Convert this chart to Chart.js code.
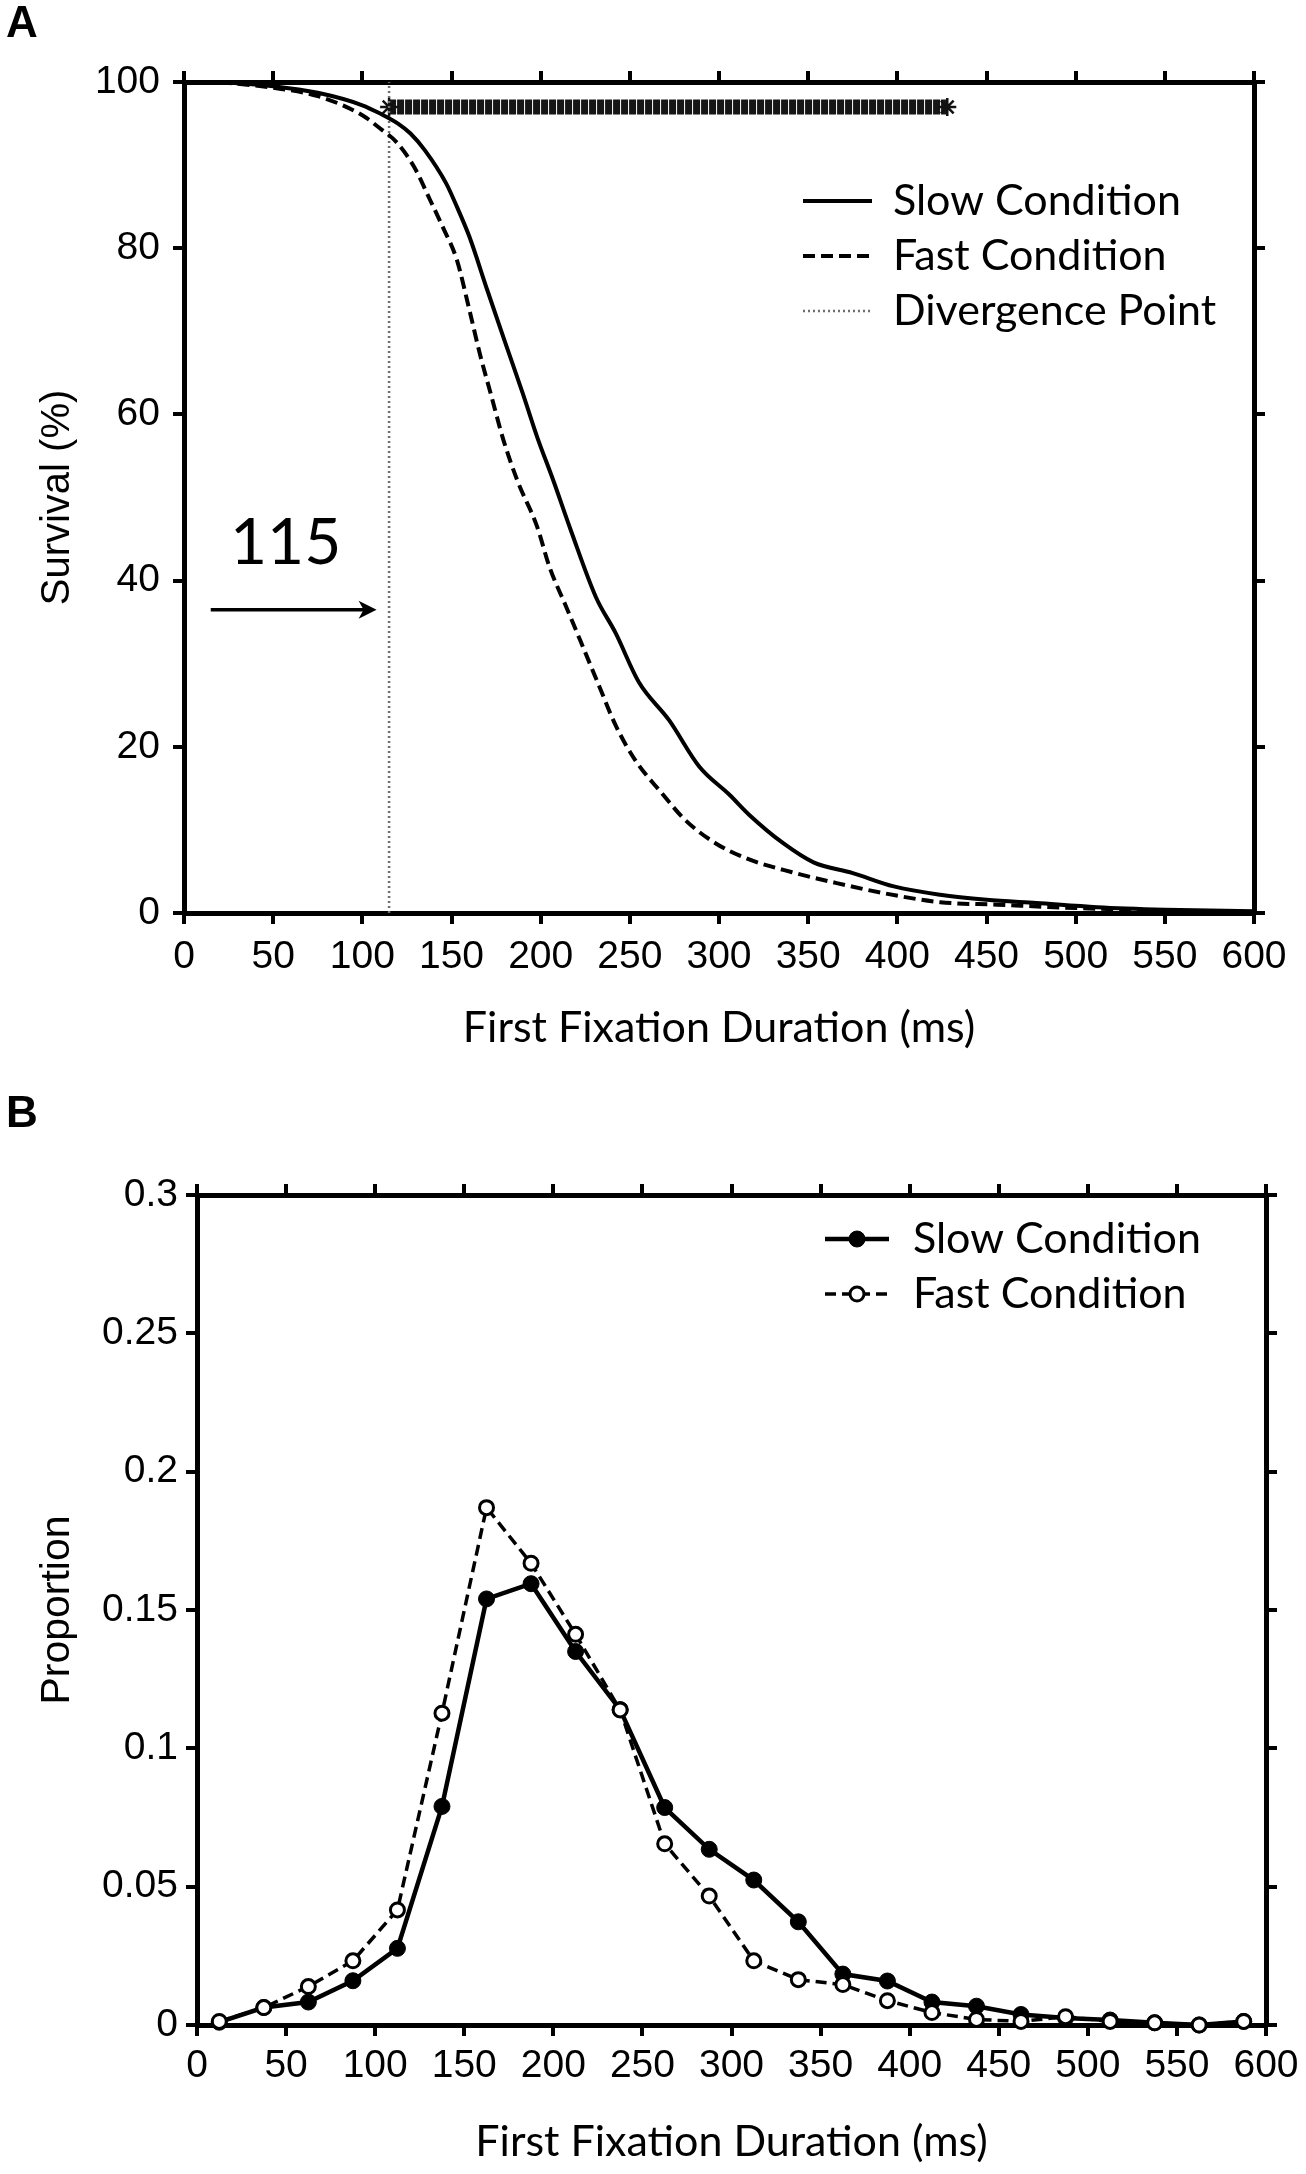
<!DOCTYPE html>
<html>
<head>
<meta charset="utf-8">
<script src="https://cdn.jsdelivr.net/npm/chart.js@4.4.1/dist/chart.umd.min.js"></script>
<style>
html,body{margin:0;padding:0;background:#fff;}
#wrap{position:relative;width:1306px;height:2174px;background:#fff;}
.box{position:absolute;left:0;width:1306px;height:1087px;}
</style>
</head>
<body>
<div id="wrap">
  <div class="box" style="top:0px"><canvas id="c1"></canvas></div>
  <div class="box" style="top:1087px"><canvas id="c2"></canvas></div>
</div>
<script>
// ---------------- DATA: panel A (survival curves) ----------------
const slowX = [20, 50, 75, 100, 110, 120, 127, 135, 147, 153, 160, 170, 181, 190, 198, 207, 217, 231, 242, 255, 272, 289, 306, 317, 336, 353, 375, 398, 424, 450, 478, 512, 550, 600];
const slowY = [100, 99.5, 98.7, 97.2, 96.2, 95.0, 93.8, 91.8, 87.8, 85.0, 81.4, 75.0, 68.1, 62.5, 57.3, 52.1, 46.0, 38.0, 33.7, 27.8, 23.2, 17.6, 14.2, 11.8, 8.4, 6.1, 4.8, 3.2, 2.2, 1.6, 1.2, 0.7, 0.4, 0.2];
const fastX = [20, 50, 75, 100, 110, 119, 129, 138, 145, 153, 160, 166, 172, 179, 187, 198, 205, 214, 222, 233, 242, 253, 268, 281, 298, 315, 341, 366, 392, 424, 456, 500, 550, 600];
const fastY = [100, 99.3, 98.3, 96.0, 94.4, 92.8, 89.8, 85.8, 82.6, 78.6, 72.6, 67.2, 62.5, 57.0, 52.0, 46.5, 41.6, 37.0, 32.9, 27.2, 22.6, 18.4, 14.4, 11.2, 8.4, 6.6, 4.9, 3.6, 2.4, 1.3, 1.0, 0.6, 0.3, 0.1];
const divergencePoint = 115;          // ms
const significantRange = [115, 428];  // ms, run of significant differences (stars)
const significantLevel = 97;          // % (height of the star row)
const survivalTicks = ['0', '20', '40', '60', '80', '100'];
const durationTicks = ['0', '50', '100', '150', '200', '250', '300', '350', '400', '450', '500', '550', '600'];

// ---------------- DATA: panel B (distributions) ----------------
const binCenters = [12.5, 37.5, 62.5, 87.5, 112.5, 137.5, 162.5, 187.5, 212.5, 237.5, 262.5, 287.5, 312.5, 337.5, 362.5, 387.5, 412.5, 437.5, 462.5, 487.5, 512.5, 537.5, 562.5, 587.5];
const slowProp = [0.001, 0.0063, 0.0083, 0.016, 0.0277, 0.079, 0.154, 0.1595, 0.135, 0.114, 0.0786, 0.0635, 0.0524, 0.0373, 0.0184, 0.0159, 0.0083, 0.0068, 0.0038, 0.0025, 0.0018, 0.0008, 0.0, 0.0013];
const fastProp = [0.0013, 0.0063, 0.0139, 0.0232, 0.0416, 0.1127, 0.187, 0.1669, 0.1412, 0.1139, 0.0655, 0.0466, 0.0232, 0.0164, 0.0146, 0.0088, 0.0045, 0.002, 0.0013, 0.003, 0.0013, 0.0008, 0.0, 0.0013];
const proportionTicks = ['0', '0.05', '0.1', '0.15', '0.2', '0.25', '0.3'];

const seriesNames = ['Slow Condition', 'Fast Condition', 'Divergence Point'];
const xTitle = 'First Fixation Duration (ms)';

// ---------------- helpers ----------------
const AX = '"Liberation Sans", Arial, sans-serif';
const CAL = 'Lato, "Open Sans", sans-serif';
const pairs = (xs, ys) => xs.map((x, i) => ({x: x, y: ys[i]}));

function frameScale(pos, min, max, step, labels, size) {
  return {
    type: 'linear', position: pos, min: min, max: max,
    ticks: {
      stepSize: step, autoSkip: false, maxRotation: 0, color: '#000',
      font: {family: AX, size: 39},
      display: !!labels,
      callback: labels ? (v, i) => labels[i] : () => ''
    },
    grid: {drawOnChartArea: false, drawTicks: true, tickLength: 11, lineWidth: 4, color: '#000'},
    border: {display: true, width: 5, color: '#000'},
    afterFit: (sc) => {
      if (pos === 'top' || pos === 'bottom') sc.height = size; else sc.width = size;
    }
  };
}

function arrow(ctx, x0, x1, y) {
  ctx.beginPath();
  ctx.strokeStyle = '#000'; ctx.lineWidth = 3.5;
  ctx.moveTo(x0, y); ctx.lineTo(x1 - 6, y);
  ctx.stroke();
  ctx.beginPath();
  ctx.fillStyle = '#000';
  ctx.moveTo(x1, y); ctx.lineTo(x1 - 18, y - 9); ctx.lineTo(x1 - 13, y); ctx.lineTo(x1 - 18, y + 9);
  ctx.closePath(); ctx.fill();
}

Chart.defaults.animation = false;

// ---------------- Panel A ----------------
const plugA = {
  id: 'plugA',
  afterDraw(chart) {
    const ctx = chart.ctx, xs = chart.scales.x, ys = chart.scales.y;
    ctx.save();
    ctx.fillStyle = '#000';
    ctx.font = 'bold 44px ' + AX;
    ctx.textAlign = 'left'; ctx.textBaseline = 'alphabetic';
    ctx.fillText('A', 6, 37);

    const rows = [201, 256, 311];
    for (let k = 0; k < 3; k++) {
      const ds = chart.data.datasets[k];
      ctx.beginPath();
      ctx.strokeStyle = ds.borderColor;
      ctx.lineWidth = k === 2 ? 2.5 : 4;
      ctx.setLineDash(ds.borderDash || []);
      ctx.moveTo(803, rows[k]); ctx.lineTo(872, rows[k]);
      ctx.stroke();
      ctx.setLineDash([]);
      ctx.fillStyle = '#000';
      ctx.font = '43px ' + CAL;
      ctx.textAlign = 'left'; ctx.textBaseline = 'middle';
      ctx.fillText(ds.label, 893, rows[k]);
    }

    ctx.font = '64px ' + CAL;
    ctx.textAlign = 'center'; ctx.textBaseline = 'alphabetic';
    ctx.fillStyle = '#000';
    ctx.fillText(String(divergencePoint), xs.getPixelForValue(57), ys.getPixelForValue(42));
    arrow(ctx, xs.getPixelForValue(15), xs.getPixelForValue(divergencePoint - 7), ys.getPixelForValue(36.5));
    ctx.restore();
  }
};

new Chart(document.getElementById('c1'), {
  type: 'line',
  data: {
    datasets: [
      {label: seriesNames[0], data: pairs(slowX, slowY), borderColor: '#000', borderWidth: 4,
       pointRadius: 0, cubicInterpolationMode: 'monotone', fill: false, clip: 6},
      {label: seriesNames[1], data: pairs(fastX, fastY), borderColor: '#000', borderWidth: 4,
       borderDash: [12, 6], pointRadius: 0, cubicInterpolationMode: 'monotone', fill: false, clip: 6},
      {label: seriesNames[2], data: [{x: divergencePoint, y: 0}, {x: divergencePoint, y: 100}],
       borderColor: '#6e6e6e', borderWidth: 2.5, borderDash: [2, 3], pointRadius: 0, fill: false},
      {label: 'significant', data: [{x: significantRange[0], y: significantLevel}, {x: significantRange[1], y: significantLevel}],
       borderColor: '#161616', borderWidth: 15, borderDash: [7, 1], pointStyle: 'star', pointRadius: 9,
       pointBorderColor: '#111', pointBorderWidth: 2.5, fill: false}
    ]
  },
  options: {
    responsive: true, maintainAspectRatio: false, animation: false,
    layout: {padding: 0},
    plugins: {legend: {display: false}, tooltip: {enabled: false}},
    scales: {
      x: frameScale('bottom', 0, 600, 50, durationTicks, 174),
      x2: frameScale('top', 0, 600, 50, null, 82),
      y: frameScale('left', 0, 100, 20, survivalTicks, 184),
      y2: frameScale('right', 0, 100, 20, null, 52)
    }
  },
  plugins: [plugA]
});
const cA = Chart.getChart('c1');
cA.options.scales.x.ticks.padding = 10;
cA.options.scales.x.title = {display: true, text: xTitle, color: '#000', font: {family: CAL, size: 43}, padding: {top: 0, bottom: 33}};
cA.options.scales.y.ticks.padding = 13;
cA.options.scales.y.title = {display: true, text: 'Survival (%)', color: '#000', font: {family: AX, size: 40}, padding: {top: 34, bottom: 0}};
cA.update();

// ---------------- Panel B ----------------
const plugB = {
  id: 'plugB',
  afterDraw(chart) {
    const ctx = chart.ctx;
    ctx.save();
    ctx.fillStyle = '#000';
    ctx.font = 'bold 44px ' + AX;
    ctx.textAlign = 'left'; ctx.textBaseline = 'alphabetic';
    ctx.fillText('B', 6, 40);
    const rows = [152, 207];
    const order = [1, 0];
    for (let k = 0; k < 2; k++) {
      const ds = chart.data.datasets[order[k]];
      ctx.beginPath();
      ctx.strokeStyle = '#000';
      ctx.lineWidth = ds.borderWidth;
      ctx.setLineDash(ds.borderDash || []);
      ctx.moveTo(825, rows[k]); ctx.lineTo(889, rows[k]);
      ctx.stroke();
      ctx.setLineDash([]);
      ctx.beginPath();
      ctx.arc(857, rows[k], ds.pointRadius, 0, Math.PI * 2);
      ctx.fillStyle = ds.pointBackgroundColor; ctx.fill();
      ctx.lineWidth = ds.pointBorderWidth; ctx.strokeStyle = '#000'; ctx.stroke();
      ctx.fillStyle = '#000';
      ctx.font = '43px ' + CAL;
      ctx.textAlign = 'left'; ctx.textBaseline = 'middle';
      ctx.fillText(ds.label, 913, rows[k]);
    }
    ctx.restore();
  }
};

new Chart(document.getElementById('c2'), {
  type: 'line',
  data: {
    datasets: [
      {label: seriesNames[1], data: pairs(binCenters, fastProp), borderColor: '#000', borderWidth: 3.5,
       borderDash: [11, 6], pointRadius: 7, pointBackgroundColor: '#fff', pointBorderColor: '#000',
       pointBorderWidth: 3, tension: 0, fill: false, clip: false, order: 0},
      {label: seriesNames[0], data: pairs(binCenters, slowProp), borderColor: '#000', borderWidth: 4.5,
       pointRadius: 8, pointBackgroundColor: '#000', pointBorderColor: '#000', pointBorderWidth: 1,
       tension: 0, fill: false, clip: false, order: 1}
    ]
  },
  options: {
    responsive: true, maintainAspectRatio: false, animation: false,
    layout: {padding: 0},
    plugins: {legend: {display: false}, tooltip: {enabled: false}},
    scales: {
      x: frameScale('bottom', 0, 600, 50, durationTicks, 149),
      x2: frameScale('top', 0, 600, 50, null, 108),
      y: frameScale('left', 0, 0.3, 0.05, proportionTicks, 197),
      y2: frameScale('right', 0, 0.3, 0.05, null, 40)
    }
  },
  plugins: [plugB]
});
const cB = Chart.getChart('c2');
cB.options.scales.x.ticks.padding = 7;
cB.options.scales.x.title = {display: true, text: xTitle, color: '#000', font: {family: CAL, size: 43}, padding: {top: 0, bottom: 6}};
cB.options.scales.y.ticks.padding = 8;
cB.options.scales.y.title = {display: true, text: 'Proportion', color: '#000', font: {family: AX, size: 41}, padding: {top: 33, bottom: 0}};
cB.update();
</script>
</body>
</html>
